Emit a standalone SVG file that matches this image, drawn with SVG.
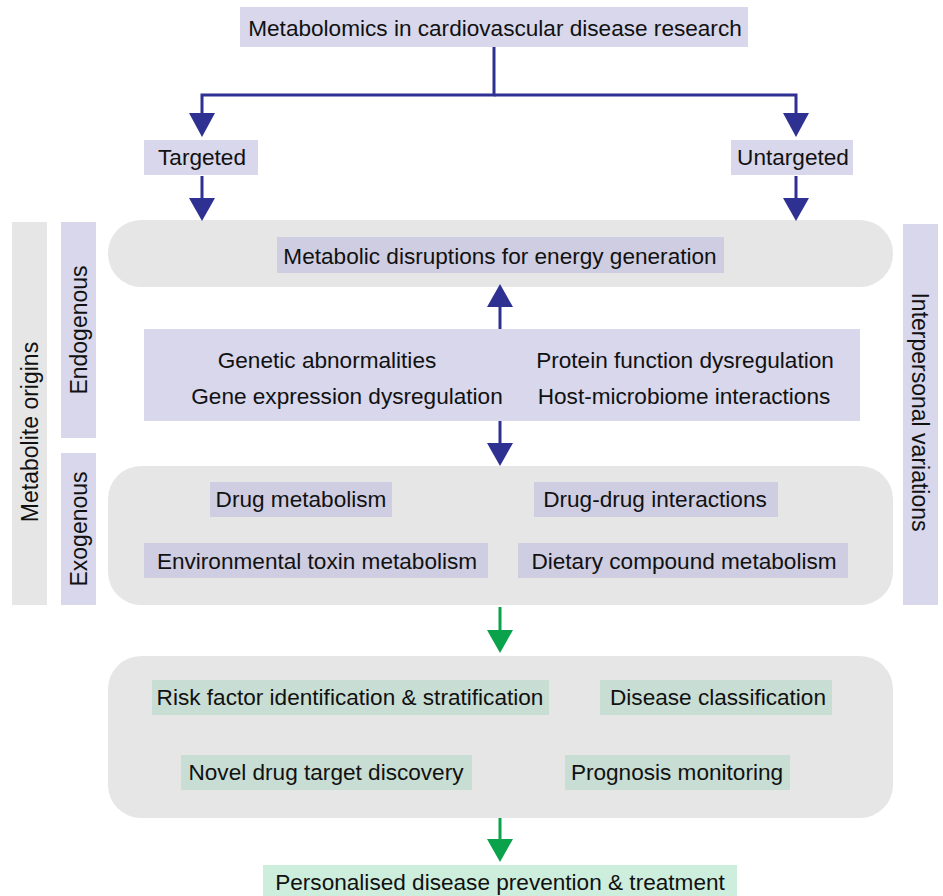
<svg xmlns="http://www.w3.org/2000/svg" width="943" height="896" viewBox="0 0 943 896">
<defs>
<style>
text{font-family:"Liberation Sans",Arial,sans-serif;font-size:22.6px;fill:#111;text-anchor:middle;dominant-baseline:central}
.rot{font-size:23px}
.lav{fill:#d8d7eb}
.lav2{fill:#cfcde1}
.grey{fill:#e6e6e6}
.gg{fill:#c8ddd3}
.lg{fill:#cdeedc}
.blue{stroke:#2e3192;stroke-width:3;fill:none}
.green{stroke:#0aa24b;stroke-width:3;fill:none}
</style>
</defs>
<rect width="943" height="896" fill="#fff"/>

<g id="side-labels">
<g id="metabolite-origins"><rect class="grey" x="12" y="222" width="35" height="383"/><text class="rot" transform="translate(30,432) rotate(-90)">Metabolite origins</text></g>
<g id="endogenous"><rect class="lav" x="61" y="222" width="35" height="216"/><text class="rot" transform="translate(79,330) rotate(-90)">Endogenous</text></g>
<g id="exogenous"><rect class="lav" x="61" y="453" width="35" height="152"/><text class="rot" transform="translate(79,529) rotate(-90)">Exogenous</text></g>
<g id="interpersonal"><rect class="lav" x="903" y="224" width="35" height="381"/><text class="rot" transform="translate(920,412) rotate(90)">Interpersonal variations</text></g>
</g>

<g id="containers">
<rect class="grey" x="108" y="220" width="785" height="67" rx="33"/>
<rect class="grey" x="108" y="466" width="785" height="139" rx="33"/>
<rect class="grey" x="108" y="656" width="785" height="162" rx="33"/>
</g>

<g id="connectors">
<polyline class="blue" points="494,47 494,95 202,95 202,115"/>
<polyline class="blue" points="494,95 796,95 796,115"/>
<path d="M189,113 L215,113 L202,137 z" fill="#2e3192"/>
<path d="M783,113 L809,113 L796,137 z" fill="#2e3192"/>
<line class="blue" x1="202" y1="176" x2="202" y2="200"/>
<line class="blue" x1="796" y1="176" x2="796" y2="200"/>
<path d="M189,198 L215,198 L202,221 z" fill="#2e3192"/>
<path d="M783,198 L809,198 L796,221 z" fill="#2e3192"/>
<line class="blue" x1="500" y1="329" x2="500" y2="305"/>
<path d="M487,307 L513,307 L500,284 z" fill="#2e3192"/>
<line class="blue" x1="500" y1="421" x2="500" y2="445"/>
<path d="M487,443 L513,443 L500,466 z" fill="#2e3192"/>
<line class="green" x1="500" y1="607" x2="500" y2="632"/>
<path d="M487,630 L513,630 L500,653 z" fill="#0aa24b"/>
<line class="green" x1="500" y1="818" x2="500" y2="841"/>
<path d="M487,839 L513,839 L500,862 z" fill="#0aa24b"/>
</g>

<g id="title"><rect class="lav" x="240" y="7" width="508" height="40"/><text x="495" y="28">Metabolomics in cardiovascular disease research</text></g>
<g id="targeted"><rect class="lav" x="144" y="140" width="114" height="35"/><text x="202" y="157">Targeted</text></g>
<g id="untargeted"><rect class="lav" x="731" y="140" width="122" height="35"/><text x="793" y="157">Untargeted</text></g>

<g id="metabolic-disruptions"><rect class="lav2" x="277" y="237" width="447" height="36"/><text x="500" y="256">Metabolic disruptions for energy generation</text></g>

<g id="endogenous-factors"><rect class="lav" x="144" y="329" width="716" height="92"/>
<text x="327" y="360">Genetic abnormalities</text>
<text x="685" y="360">Protein function dysregulation</text>
<text x="347" y="396">Gene expression dysregulation</text>
<text x="684" y="396">Host-microbiome interactions</text>
</g>

<g id="drug-metabolism"><rect class="lav2" x="210" y="482" width="182" height="35"/><text x="301" y="499">Drug metabolism</text></g>
<g id="drug-drug"><rect class="lav2" x="534" y="482" width="244" height="35"/><text x="655" y="499">Drug-drug interactions</text></g>
<g id="env-toxin"><rect class="lav2" x="144" y="543" width="344" height="35"/><text x="317" y="561">Environmental toxin metabolism</text></g>
<g id="dietary"><rect class="lav2" x="518" y="543" width="330" height="35"/><text x="684" y="561">Dietary compound metabolism</text></g>

<g id="risk-factor"><rect class="gg" x="152" y="680" width="397" height="35"/><text x="350" y="697">Risk factor identification &amp; stratification</text></g>
<g id="disease-class"><rect class="gg" x="600" y="680" width="232" height="35"/><text x="718" y="697">Disease classification</text></g>
<g id="novel-drug"><rect class="gg" x="181" y="755" width="291" height="35"/><text x="326" y="772">Novel drug target discovery</text></g>
<g id="prognosis"><rect class="gg" x="565" y="755" width="225" height="35"/><text x="677" y="772">Prognosis monitoring</text></g>

<g id="personalised"><rect class="lg" x="263" y="865" width="474" height="31"/><text x="500" y="882">Personalised disease prevention &amp; treatment</text></g>
</svg>
